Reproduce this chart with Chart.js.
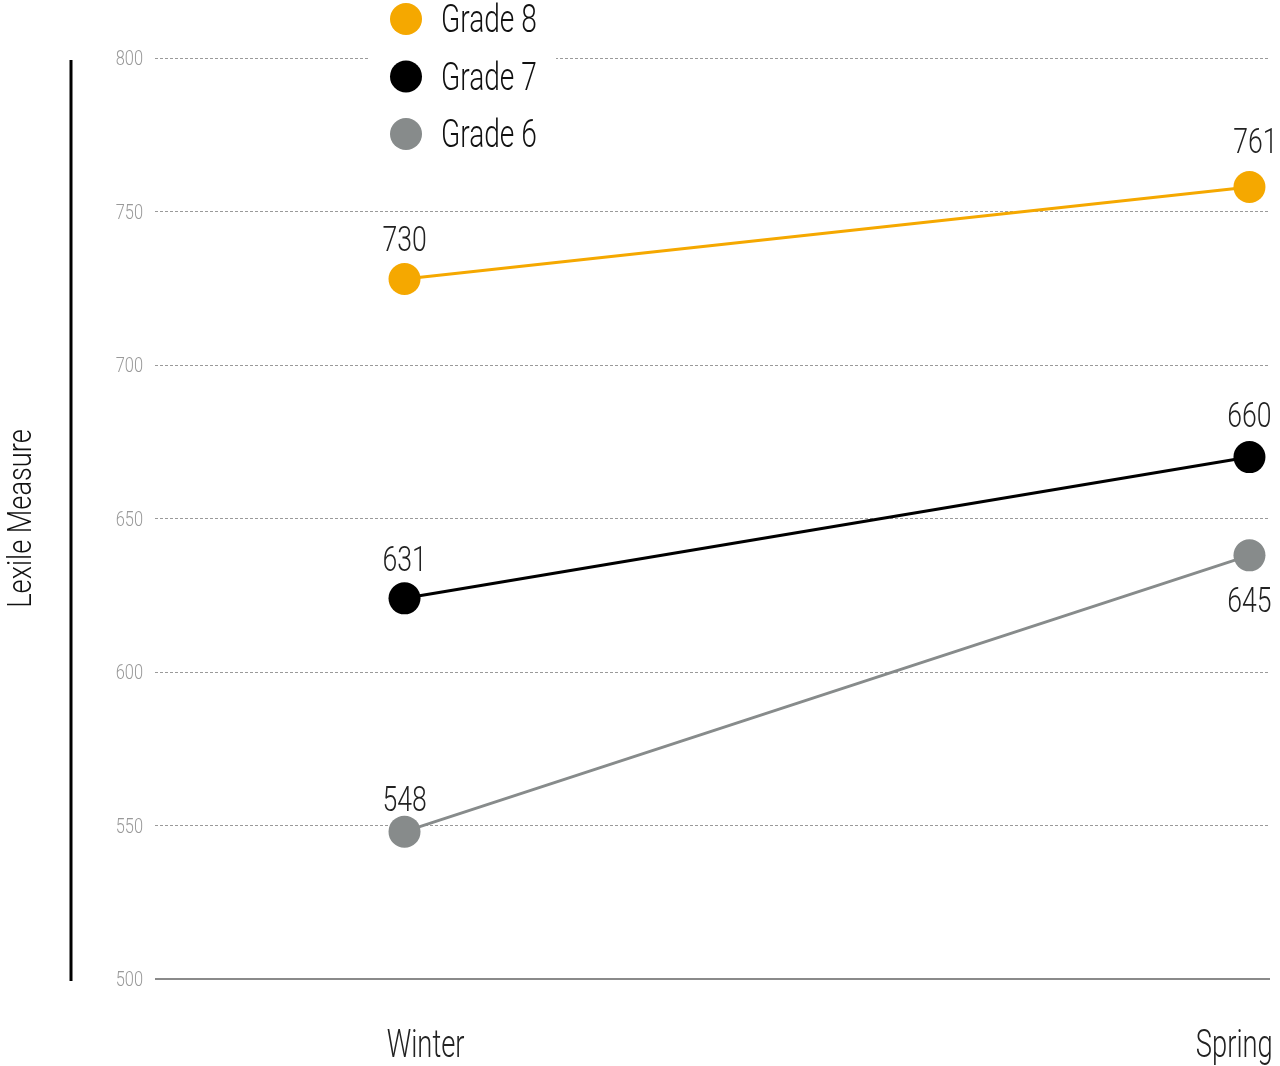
<!DOCTYPE html>
<html>
<head>
<meta charset="utf-8">
<script src="https://cdn.jsdelivr.net/npm/chart.js@4/dist/chart.umd.min.js"></script>
<style>
html,body{margin:0;padding:0;background:#fff;}
#wrap{width:1280px;height:1066px;position:relative;}
</style>
</head>
<body>
<div id="wrap"><canvas id="c"></canvas></div>
<script>
// ---- data ----
const categories = ['Winter', 'Spring'];
const seriesNames = ['Grade 8', 'Grade 7', 'Grade 6'];
const grade8 = [728, 758];
const grade7 = [624, 670];
const grade6 = [548, 638];
const grade8Labels = ['730', '761'];
const grade7Labels = ['631', '660'];
const grade6Labels = ['548', '645'];
const yTicks = [500, 550, 600, 650, 700, 750, 800];
const axisTitle = 'Lexile Measure';

// ---- styles ----
const colors = ['#F5A800', '#000000', '#878B8B'];
// baseline offset of value labels relative to point (positive = above)
const labelOffsets = [[28, 34], [27, 30], [21, -57]];
const allValues = [grade8, grade7, grade6];
const allLabels = [grade8Labels, grade7Labels, grade6Labels];

function ctext(ctx, txt, x, y, size, color, align, sx, weight) {
  ctx.save();
  ctx.font = (weight || 300) + ' ' + size + 'px Roboto, "Liberation Sans Narrow", sans-serif';
  ctx.fillStyle = color;
  ctx.textAlign = align;
  ctx.textBaseline = 'alphabetic';
  ctx.translate(x, y);
  ctx.scale(sx, 1);
  ctx.fillText(txt, 0, 0);
  ctx.restore();
}

const decorPlugin = {
  id: 'decor',
  afterDraw(chart) {
    const ctx = chart.ctx;
    const xs = chart.scales.x, ys = chart.scales.y;
    const area = chart.chartArea;
    // baseline at 500
    ctx.save();
    ctx.strokeStyle = '#8a8a8a';
    ctx.lineWidth = 2;
    ctx.beginPath();
    const by = ys.getPixelForValue(500);
    ctx.moveTo(area.left, by);
    ctx.lineTo(area.right, by);
    ctx.stroke();
    // vertical axis line
    ctx.strokeStyle = '#000';
    ctx.lineWidth = 3;
    ctx.beginPath();
    ctx.moveTo(71, ys.getPixelForValue(800) + 2);
    ctx.lineTo(71, by + 2);
    ctx.stroke();
    ctx.restore();

    // y tick labels
    yTicks.forEach(v => {
      ctext(ctx, String(v), 143, ys.getPixelForValue(v) + 7, 20, '#999999', 'right', 0.82, 300);
    });

    // axis title
    ctx.save();
    ctx.translate(31, (ys.getPixelForValue(800) + by) / 2);
    ctx.rotate(-Math.PI / 2);
    ctext(ctx, axisTitle, 0, 0, 34, '#111', 'center', 0.8, 300);
    ctx.restore();

    // x category labels
    const xOffsets = [0.025, -0.018];
    categories.forEach((c, i) => {
      ctext(ctx, c, xs.getPixelForValue(i + xOffsets[i]), 1057, 38, '#222', 'center', 0.72, 300);
    });

    // data labels
    allValues.forEach((vals, s) => {
      vals.forEach((v, i) => {
        const px = xs.getPixelForValue(i);
        const py = ys.getPixelForValue(v);
        const ly = py - labelOffsets[s][i];
        ctext(ctx, allLabels[s][i], px + (i === 1 && s === 0 ? 6 : 0), ly, 35, '#222', 'center', 0.76, 300);
      });
    });

    // legend
    ctx.save();
    ctx.fillStyle = '#fff';
    ctx.fillRect(370, 0, 186, 162);
    chart.data.datasets.forEach((ds, i) => {
      const cy = 19 + i * 57.5;
      ctx.beginPath();
      ctx.fillStyle = ds.backgroundColor;
      ctx.arc(406, cy, 16, 0, Math.PI * 2);
      ctx.fill();
      ctext(ctx, ds.label, 441, cy + 13, 38, '#111', 'left', 0.74, 300);
    });
    ctx.restore();
  }
};

const datasets = seriesNames.map((name, s) => ({
  label: name,
  data: allValues[s].map((v, i) => ({ x: i, y: v })),
  borderColor: colors[s],
  backgroundColor: colors[s],
  pointBackgroundColor: colors[s],
  pointBorderWidth: 0,
  pointRadius: 16,
  pointHoverRadius: 16,
  borderWidth: 3,
  tension: 0,
  clip: false
}));

new Chart(document.getElementById('c'), {
  type: 'line',
  data: { datasets },
  options: {
    responsive: true,
    maintainAspectRatio: false,
    animation: false,
    layout: { autoPadding: false, padding: { left: 155, right: 10, top: 58, bottom: 87 } },
    plugins: { legend: { display: false }, tooltip: { enabled: false } },
    scales: {
      x: { type: 'linear', min: -0.2953, max: 1.0243, display: false },
      y: {
        type: 'linear', min: 500, max: 800,
        afterFit(s) { s.width = 0; },
        afterBuildTicks(s) { s.ticks = yTicks.map(v => ({ value: v })); },
        ticks: { display: false },
        grid: {
          drawTicks: false,
          color: c => (c.tick && c.tick.value === 500) ? 'rgba(0,0,0,0)' : '#9a9a9a',
          lineWidth: 1
        },
        border: { display: false, dash: [3, 2] }
      }
    }
  },
  plugins: [decorPlugin]
});
</script>
</body>
</html>
